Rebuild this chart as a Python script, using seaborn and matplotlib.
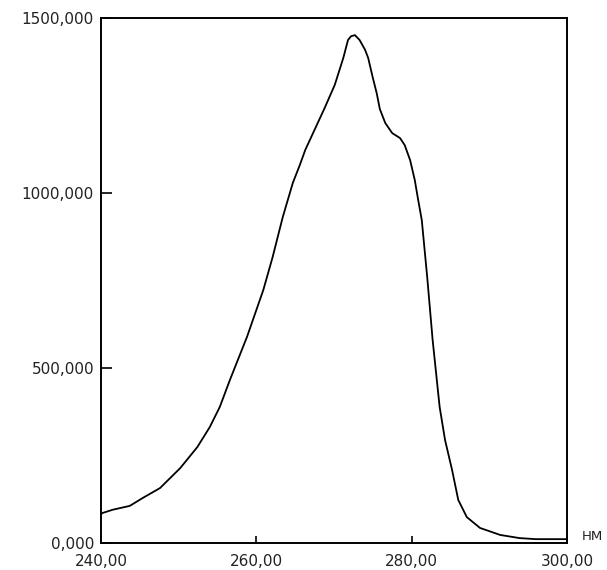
import matplotlib
matplotlib.use("Agg")
import matplotlib.pyplot as plt
import seaborn as sns
import pandas as pd

wavelength = [240.0, 240.1, 241.5, 243.7, 245.4, 247.6, 250.2, 252.4, 254.0, 255.3,
              256.6, 258.8, 260.9, 262.1, 263.4, 264.7, 265.6, 266.3, 267.3, 268.8,
              270.1, 271.2, 271.8, 272.2, 272.7, 273.3, 274.0, 274.4, 275.0, 275.5,
              275.9, 276.6, 277.5, 278.5, 279.1, 279.8, 280.4, 280.8, 281.3, 282.0,
              282.7, 283.6, 284.3, 285.2, 286.0, 287.1, 288.8, 291.4, 293.9, 296.0,
              300.0]
intensity = [80, 85, 95, 106, 129, 157, 214, 274, 331, 389,
             466, 589, 723, 817, 931, 1029, 1080, 1123, 1171, 1243,
             1309, 1386, 1437, 1448, 1451, 1437, 1409, 1386, 1329, 1285,
             1240, 1200, 1171, 1157, 1137, 1094, 1037, 985, 923, 760,
             580, 389, 294, 209, 123, 74, 43, 23, 14, 11,
             11]

x_ticks = [240, 260, 280, 300]
x_tick_labels = ["240,00", "260,00", "280,00", "300,00"]
y_ticks = [0, 500, 1000, 1500]
y_tick_labels = ["0,000", "500,000", "1000,000", "1500,000"]
x_unit = "НМ"

df = pd.DataFrame({"nm": wavelength, "value": intensity})

sns.set_style("white")
plt.rcParams["font.family"] = ["DejaVu Sans"]

fig = plt.figure(figsize=(6.07, 5.70), dpi=100)
ax = fig.add_axes([101 / 607, 27 / 570, 466 / 607, 525 / 570])

sns.lineplot(data=df, x="nm", y="value", ax=ax, color="black", linewidth=1.3)

ax.set_xlim(240, 300)
ax.set_ylim(0, 1500)
ax.set_xticks(x_ticks)
ax.set_xticklabels(x_tick_labels)
ax.set_yticks(y_ticks)
ax.set_yticklabels(y_tick_labels)
ax.set_xlabel("")
ax.set_ylabel("")

for s in ax.spines.values():
    s.set_visible(True)
    s.set_color("black")
    s.set_linewidth(1.4)

ax.tick_params(axis="x", direction="in", length=5, width=1.2, color="black",
               labelsize=11, labelcolor="#222222", pad=8, bottom=True, top=False)
ax.tick_params(axis="y", direction="in", length=8, width=1.2, color="black",
               labelsize=11, labelcolor="#222222", pad=5, left=True, right=False)

fig.text(582 / 607, 1 - 537 / 570, x_unit, ha="left", va="center",
         fontsize=9.5, color="#222222")

fig.savefig("out.png", dpi=100)
